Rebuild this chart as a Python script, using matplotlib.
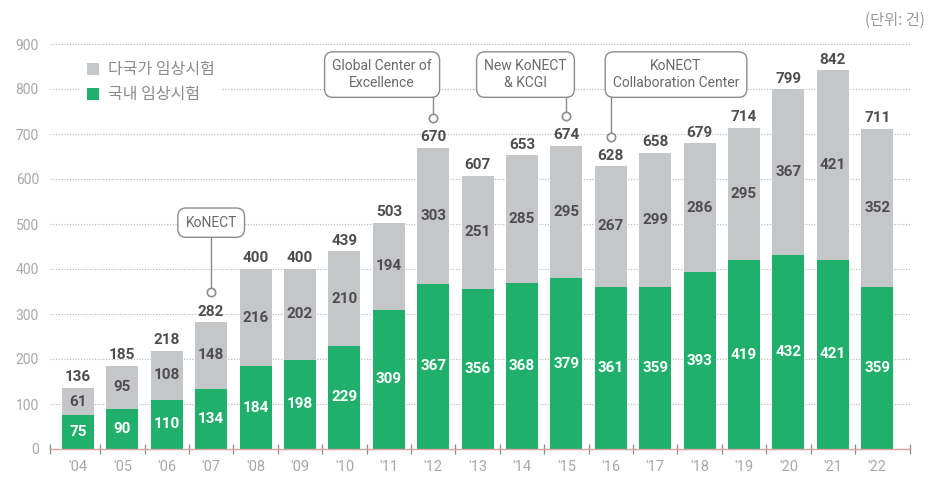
import matplotlib
matplotlib.use("Agg")
import matplotlib.pyplot as plt
from matplotlib.patches import Patch
import numpy as np

plt.rcParams['font.family'] = ['Roboto', 'Noto Sans CJK KR', 'DejaVu Sans']

# data
years = ["'04", "'05", "'06", "'07", "'08", "'09", "'10", "'11", "'12", "'13",
         "'14", "'15", "'16", "'17", "'18", "'19", "'20", "'21", "'22"]
domestic = [75, 90, 110, 134, 184, 198, 229, 309, 367, 356,
            368, 379, 361, 359, 393, 419, 432, 421, 359]
multinational = [61, 95, 108, 148, 216, 202, 210, 194, 303, 251,
                 285, 295, 267, 299, 286, 295, 367, 421, 352]
totals = [136, 185, 218, 282, 400, 400, 439, 503, 670, 607,
          653, 674, 628, 658, 679, 714, 799, 842, 711]

legend_labels = ['다국가 임상시험', '국내 임상시험']
unit_label = '(단위: 건)'

# milestone boxes: year, text, box centre offset (bars), box centre value
milestones = [
    ("'07", 'KoNECT', 0.0, 503),
    ("'12", 'Global Center of\nExcellence', -1.15, 832),
    ("'15", 'New KoNECT\n& KCGI', -0.92, 832),
    ("'16", 'KoNECT\nCollaboration Center', 1.47, 832),
]

GREEN = '#20b06c'
GRAY = '#c5c6c8'
DARK = '#4e4e50'
AXIS_GRAY = '#a8a8a8'
BOX_EDGE = '#8c8c8c'

fig = plt.figure(figsize=(9.3, 4.8), dpi=100)
ax = fig.add_axes([50 / 930, 1 - 449 / 480, 860 / 930, 409.5 / 480])

x = np.arange(len(years))
w = 0.72
ax.bar(x, domestic, w, color=GREEN, zorder=2)
ax.bar(x, multinational, w, bottom=domestic, color=GRAY, zorder=2)

for i in range(len(years)):
    ax.text(x[i], domestic[i] / 2, str(domestic[i]), ha='center', va='center',
            color='white', fontsize=11, fontweight='semibold', zorder=3)
    ax.text(x[i], domestic[i] + multinational[i] / 2, str(multinational[i]),
            ha='center', va='center', color=DARK, fontsize=11,
            fontweight='semibold', zorder=3)
    ax.text(x[i], totals[i] + 8, str(totals[i]), ha='center', va='bottom',
            color=DARK, fontsize=11, fontweight='semibold', zorder=3)

# milestone callouts
for yr, label, dx, by in milestones:
    i = years.index(yr)
    cy = totals[i] + 66
    ax.plot([x[i], x[i]], [cy, by], color=BOX_EDGE, lw=1.0, zorder=4)
    ax.plot(x[i], cy, marker='o', ms=6, mfc='white', mec=BOX_EDGE, mew=1.2,
            zorder=5)
    ax.text(x[i] + dx, by, label, ha='center', va='center', fontsize=10,
            color='#6a6a6a', linespacing=1.2, zorder=6,
            bbox=dict(boxstyle='round,pad=0.55,rounding_size=0.6',
                      fc='white', ec=BOX_EDGE, lw=1.0))

ax.set_xlim(-0.63, 18.74)
ax.set_ylim(0, 910)
ax.set_yticks(range(0, 1000, 100))
ax.set_xticks(x)
ax.set_xticklabels(years)
ax.set_xticks(np.concatenate([[-0.63], x[:-1] + 0.5, [18.74]]), minor=True)

ax.grid(axis='y', color='#b5b5b5', lw=0.8, linestyle=(0, (1, 1.5)))
ax.set_axisbelow(True)
for s in ['top', 'right', 'left']:
    ax.spines[s].set_visible(False)
ax.spines['bottom'].set_color('#d6a3a3')
ax.spines['bottom'].set_linewidth(1.0)

ax.tick_params(axis='y', length=0, labelcolor=AXIS_GRAY, labelsize=10, pad=8)
ax.tick_params(axis='x', which='major', length=0, labelcolor=AXIS_GRAY,
               labelsize=10.5, pad=8)
ax.tick_params(axis='x', which='minor', direction='inout', length=7,
               color='#8a8a8a', width=0.9)

handles = [Patch(facecolor=GRAY, edgecolor='none'),
           Patch(facecolor=GREEN, edgecolor='none')]
leg = ax.legend(handles, legend_labels, loc='upper left',
                bbox_to_anchor=(0.036, 0.96), frameon=True, facecolor='white',
                edgecolor='none', framealpha=1.0, handlelength=0.75,
                handleheight=0.75, handletextpad=0.6, labelspacing=0.5,
                borderpad=0.35, borderaxespad=0,
                prop={'family': ['Noto Sans CJK KR'], 'size': 11.5})
for t in leg.get_texts():
    t.set_color('#8c8c8c')

fig.text(925 / 930, 1 - 20 / 480, unit_label, ha='right', va='center',
         fontsize=11, color='#999999', family=['Noto Sans CJK KR'])

fig.savefig('out.png', dpi=100)
